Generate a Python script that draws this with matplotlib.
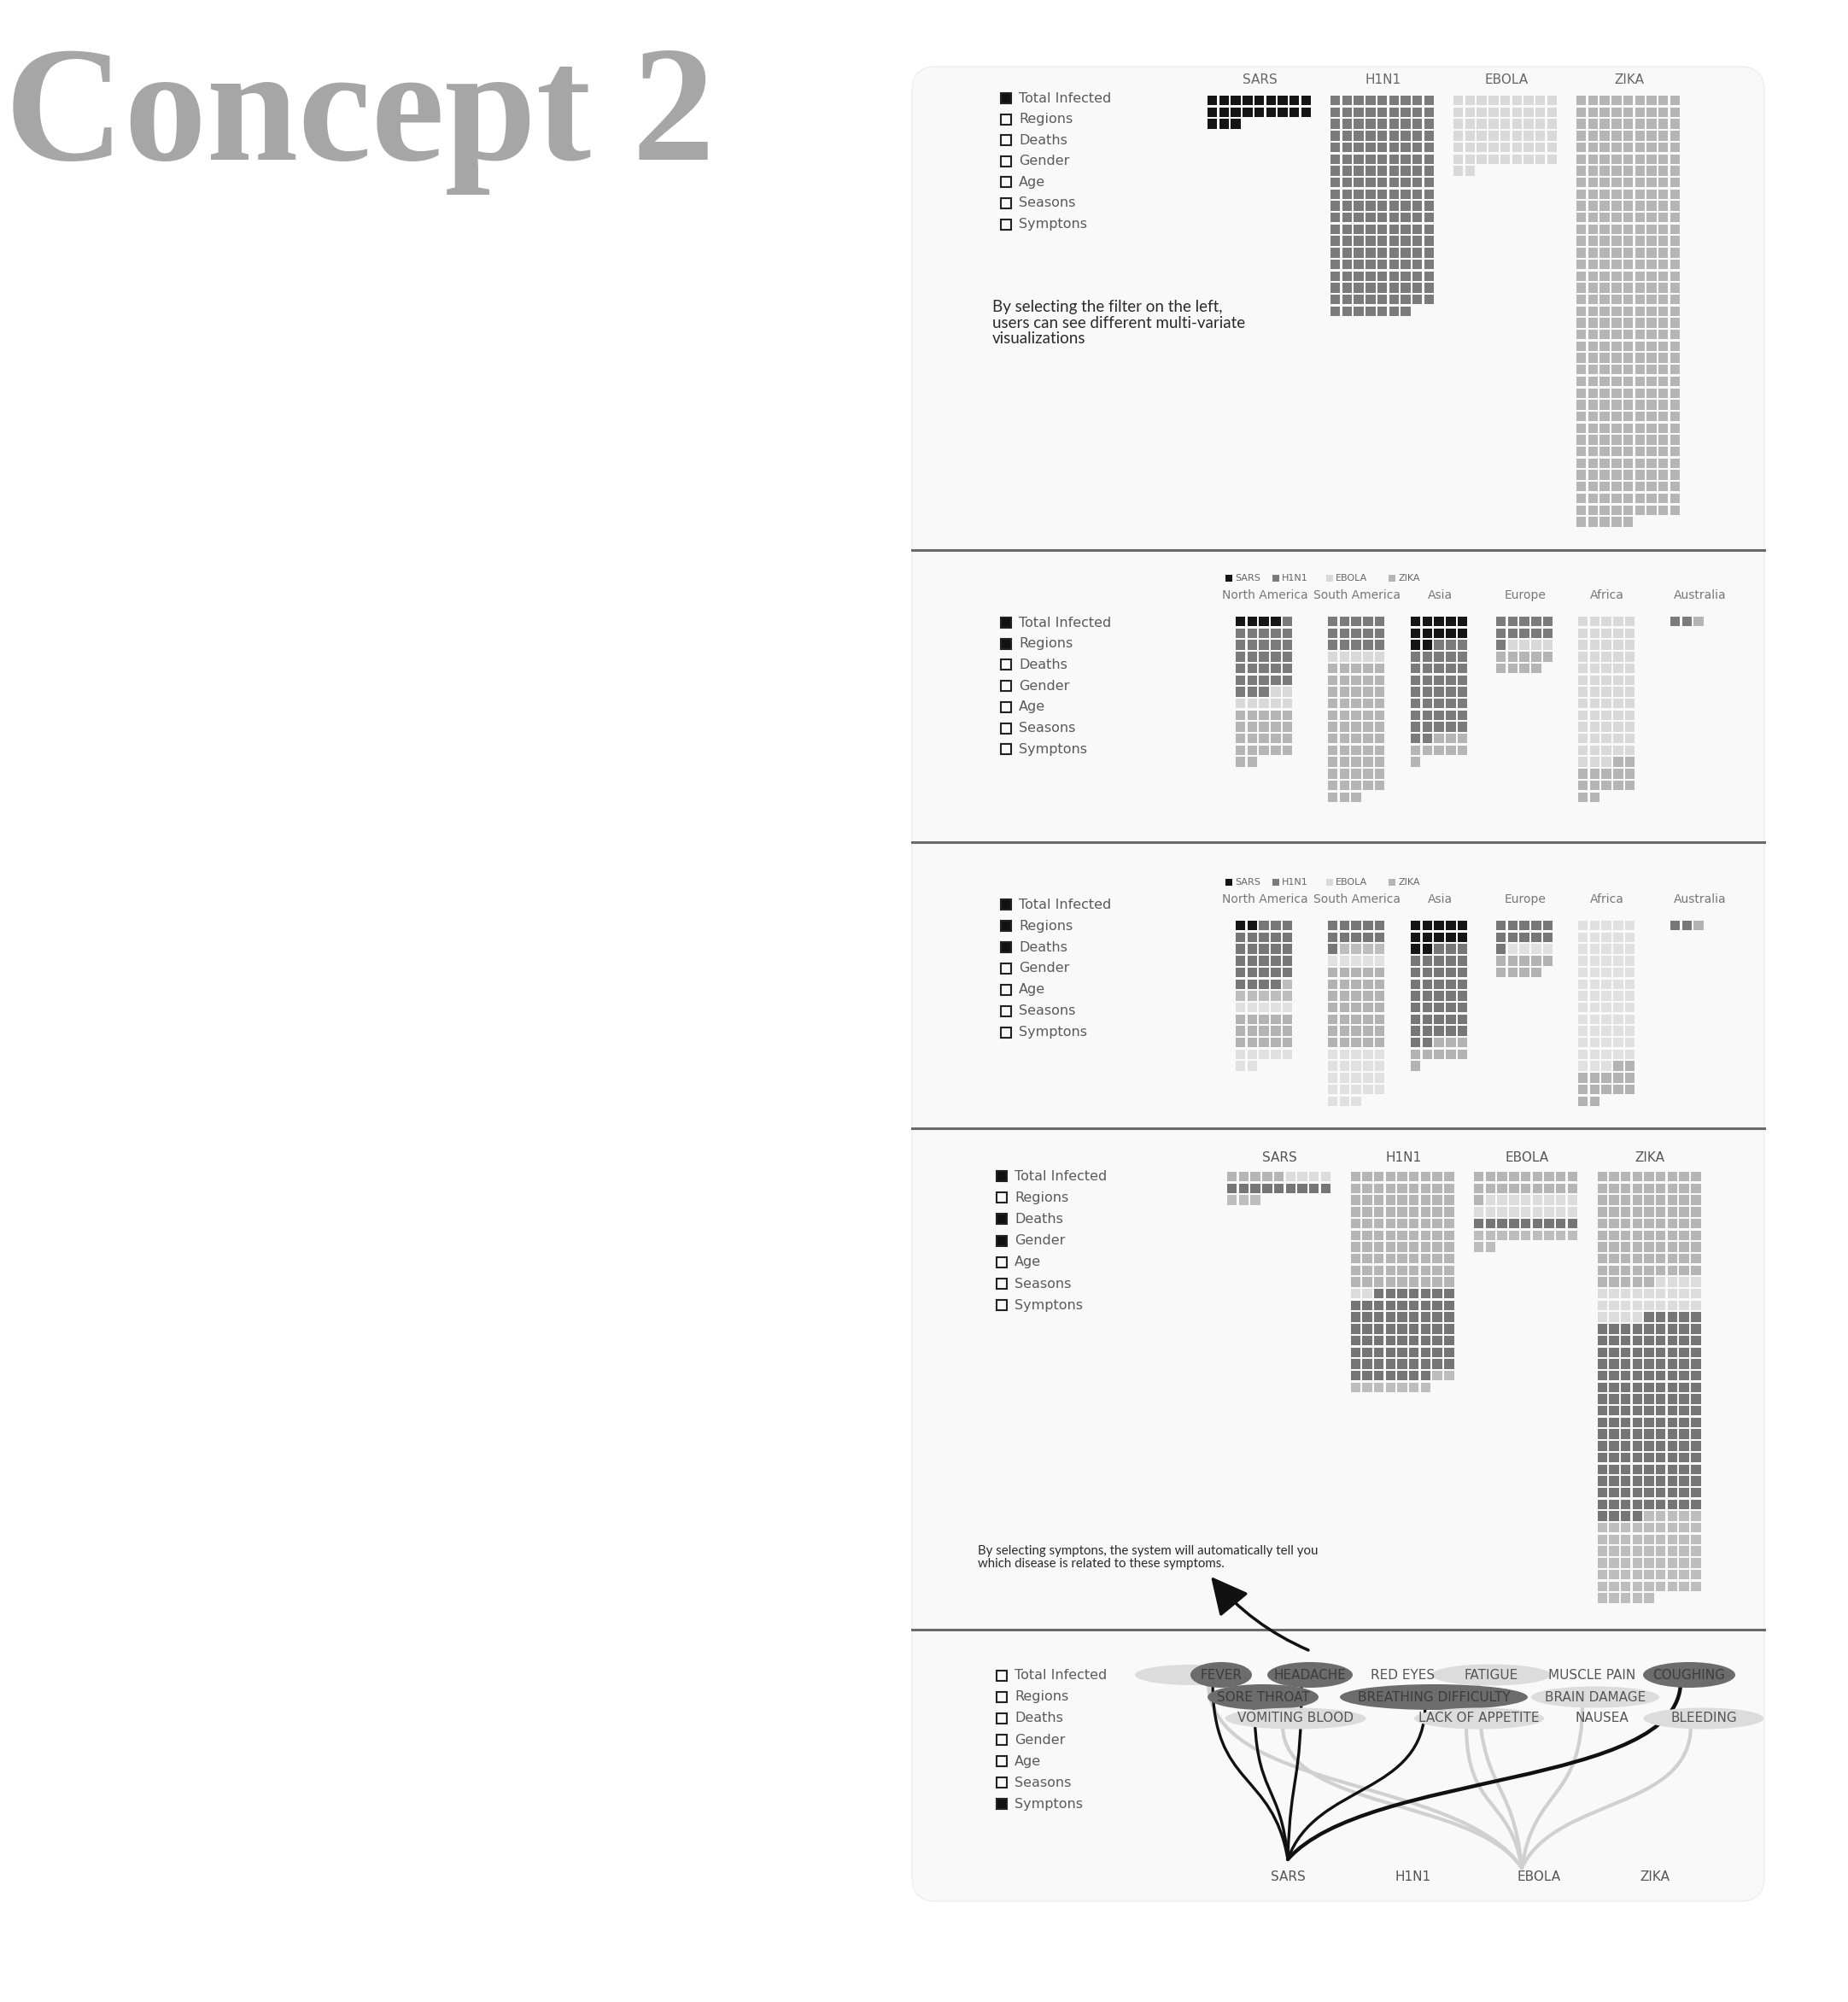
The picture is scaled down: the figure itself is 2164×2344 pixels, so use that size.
import numpy as np
import matplotlib
matplotlib.use('Agg')
import matplotlib.pyplot as plt
from matplotlib.patches import Rectangle, Ellipse, FancyBboxPatch, PathPatch
from matplotlib.collections import PatchCollection
from matplotlib.path import Path
from matplotlib import font_manager

# ---- data ----
filters = ['Total Infected', 'Regions', 'Deaths', 'Gender', 'Age', 'Seasons', 'Symptons']
diseases = ['SARS', 'H1N1', 'EBOLA', 'ZIKA']
total_infected = [21, 169, 56, 329]

regions = ['North America', 'South America', 'Asia', 'Europe', 'Africa', 'Australia']
sars_by_region = [4, 0, 12, 0, 0, 0]
h1n1_by_region = [29, 15, 40, 11, 0, 2]
ebola_by_region = [7, 5, 0, 4, 63, 0]
zika_by_region = [22, 58, 9, 9, 14, 1]

sars_deaths_by_region = [2, 0, 12, 0, 0, 0]
h1n1_deaths_by_region = [25, 11, 40, 11, 0, 2]
ebola_deaths_by_region = [2, 0, 0, 0, 0, 0]
zika_deaths_by_region = [15, 35, 9, 9, 14, 1]

gender_groups = ['Female survived', 'Female deaths', 'Male deaths', 'Male survived']
sars_by_gender = [5, 4, 9, 3]
h1n1_by_gender = [90, 2, 68, 9]
ebola_by_gender = [19, 17, 9, 11]
zika_by_gender = [86, 26, 153, 64]

symptoms = ['FEVER', 'HEADACHE', 'RED EYES', 'FATIGUE', 'MUSCLE PAIN', 'COUGHING',
            'SORE THROAT', 'BREATHING DIFFICULTY', 'BRAIN DAMAGE',
            'VOMITING BLOOD', 'LACK OF APPETITE', 'NAUSEA', 'BLEEDING']
sars_symptoms = ['FEVER', 'SORE THROAT', 'HEADACHE', 'BREATHING DIFFICULTY', 'COUGHING']
ebola_symptoms = ['FEVER', 'VOMITING BLOOD', 'LACK OF APPETITE', 'FATIGUE', 'BRAIN DAMAGE', 'BLEEDING']

panel_filters = [
    [1, 0, 0, 0, 0, 0, 0],
    [1, 1, 0, 0, 0, 0, 0],
    [1, 1, 1, 0, 0, 0, 0],
    [1, 0, 1, 1, 0, 0, 0],
    [0, 0, 0, 0, 0, 0, 1],
]

note1 = 'By selecting the filter on the left,\nusers can see different multi-variate\nvisualizations'
note2 = 'By selecting symptons, the system will automatically tell you\nwhich disease is related to these symptoms.'

# ---- styles / layout ----
W, H = 2164, 2344
disease_colors = ['#151515', '#7b7b7b', '#d9d9d9', '#b5b5b5']
death_colors = ['#151515', '#777777', '#777777', '#bdbdbd', '#bdbdbd', '#e0e0e0', '#b3b3b3', '#e0e0e0']
gender_colors = ['#b5b5b5', '#dcdcdc', '#757575', '#bdbdbd']
TXT = '#5a5a5a'

names = {f.name for f in font_manager.fontManager.ttflist}
NARROW = 'Liberation Sans Narrow' if 'Liberation Sans Narrow' in names else 'DejaVu Sans'
BODY = 'Lato' if 'Lato' in names else 'DejaVu Sans'

PITCH = 13.7
CELL = 11.4


def draw_waffle(ax, x0, y0, ncols, counts, colors):
    cats = np.repeat(np.arange(len(counts)), counts)
    rects, fcs = [], []
    for i, c in enumerate(cats):
        r, col = divmod(i, ncols)
        rects.append(Rectangle((x0 + col * PITCH, y0 + r * PITCH), CELL, CELL))
        fcs.append(colors[c])
    ax.add_collection(PatchCollection(rects, facecolor=fcs, edgecolor='none', zorder=2))


def draw_checkboxes(ax, x, y0, step, selected):
    for i, (label, on) in enumerate(zip(filters, selected)):
        y = y0 + i * step
        ax.add_patch(Rectangle((x, y - 6), 12, 12, facecolor='#111111' if on else 'none',
                               edgecolor='#222222', lw=1.5, zorder=3))
        ax.text(x + 21, y, label, va='center', ha='left', fontsize=11.5, family=NARROW,
                color=TXT, zorder=3)


fig = plt.figure(figsize=(W / 100, H / 100), dpi=100)
ax = fig.add_axes([0, 0, 1, 1])
ax.set_xlim(0, W)
ax.set_ylim(H, 0)
ax.axis('off')

# title
ax.text(6, 187, 'Concept 2', fontsize=139, family='Liberation Serif', weight='bold',
        color='#a6a6a6', va='baseline', ha='left')

# panel background and dividers
ax.add_patch(FancyBboxPatch((1068, 78), 998, 2148, boxstyle='round,pad=0,rounding_size=28',
                            facecolor='#f9f9f9', edgecolor='#eeeeee', lw=1, zorder=0))
for yd in [644, 986, 1321, 1908]:
    ax.plot([1068, 2066], [yd, yd], color='#6a6a6a', lw=2.2, zorder=1)

# ---- panel 1: total infected ----
draw_checkboxes(ax, 1172, 115, 24.6, panel_filters[0])
for i, (d, n) in enumerate(zip(diseases, total_infected)):
    x0 = 1414 + i * 144
    draw_waffle(ax, x0, 112, 9, [n], [disease_colors[i]])
    ax.text(x0 + 9 * PITCH / 2, 93, d, ha='center', va='center', fontsize=11,
            family=NARROW, color='#666666')
ax.text(1162, 351, note1, ha='left', va='top', fontsize=13.5, family=BODY,
        color='#2a2a2a', linespacing=1.12)

# ---- panels 2 and 3: regions ----
region_x = [1447, 1555, 1652, 1752, 1848, 1956]


def region_header(ytop_leg, ylab):
    leg_x = [1435, 1490, 1553, 1626]
    for i, d in enumerate(diseases):
        ax.add_patch(Rectangle((leg_x[i], ytop_leg - 4), 8, 8, facecolor=disease_colors[i],
                               edgecolor='none', zorder=3))
        ax.text(leg_x[i] + 11, ytop_leg, d, va='center', ha='left', fontsize=8,
                family=NARROW, color='#666666')
    for x0, r in zip(region_x, regions):
        ax.text(x0 + 5 * PITCH / 2, ylab, r, ha='center', va='center', fontsize=10,
                family=NARROW, color='#777777')


draw_checkboxes(ax, 1172, 729, 24.7, panel_filters[1])
region_header(677, 697)
for j, x0 in enumerate(region_x):
    counts = [sars_by_region[j], h1n1_by_region[j], ebola_by_region[j], zika_by_region[j]]
    draw_waffle(ax, x0, 722, 5, counts, disease_colors)

draw_checkboxes(ax, 1172, 1059, 25, panel_filters[2])
region_header(1033, 1053)
for j, x0 in enumerate(region_x):
    counts = []
    for tot, dead in [(sars_by_region, sars_deaths_by_region), (h1n1_by_region, h1n1_deaths_by_region),
                      (ebola_by_region, ebola_deaths_by_region), (zika_by_region, zika_deaths_by_region)]:
        counts += [dead[j], tot[j] - dead[j]]
    draw_waffle(ax, x0, 1078, 5, counts, death_colors)

# ---- panel 4: gender ----
draw_checkboxes(ax, 1167, 1377, 25.2, panel_filters[3])
for i, (d, g) in enumerate(zip(diseases, [sars_by_gender, h1n1_by_gender, ebola_by_gender, zika_by_gender])):
    x0 = 1437 + i * 144.5
    draw_waffle(ax, x0, 1372, 9, g, gender_colors)
    ax.text(x0 + 9 * PITCH / 2, 1355, d, ha='center', va='center', fontsize=11,
            family=NARROW, color='#555555')
ax.text(1145, 1809, note2, ha='left', va='top', fontsize=10.8, family=BODY,
        color='#2a2a2a', linespacing=1.05)
ax.annotate('', xy=(1418, 1846), xytext=(1532, 1932),
            arrowprops=dict(arrowstyle='-|>,head_length=0.9,head_width=0.45', mutation_scale=30,
                            lw=2.5, color='#111111', connectionstyle='arc3,rad=-0.12',
                            shrinkA=0, shrinkB=0), zorder=4)

# ---- panel 5: symptoms ----
draw_checkboxes(ax, 1167, 1962, 25, panel_filters[4])
symptom_pos = {
    'FEVER': (1430, 1961, 72), 'HEADACHE': (1534, 1961, 100), 'RED EYES': (1643, 1961, 0),
    'FATIGUE': (1746, 1961, 140), 'MUSCLE PAIN': (1864, 1961, 0), 'COUGHING': (1978, 1961, 108),
    'SORE THROAT': (1479, 1987, 130), 'BREATHING DIFFICULTY': (1679, 1987, 220),
    'BRAIN DAMAGE': (1868, 1987, 150), 'VOMITING BLOOD': (1517, 2012, 165),
    'LACK OF APPETITE': (1732, 2012, 152), 'NAUSEA': (1876, 2012, 0), 'BLEEDING': (1995, 2012, 141),
}
disease_pos = {'SARS': (1508, 2197), 'H1N1': (1655, 2197), 'EBOLA': (1802, 2197), 'ZIKA': (1938, 2197)}


def link(start, end, color, lw, z):
    x0, y0 = start
    x1, y1 = end
    dx, dy = x1 - x0, y0 - y1
    verts = [(x0, y0), (x0 + 0.2 * dx, y0 - 0.5 * dy), (x1, y0 - 0.4 * dy), (x1, y1)]
    path = Path(verts, [Path.MOVETO, Path.CURVE4, Path.CURVE4, Path.CURVE4])
    ax.add_patch(PathPatch(path, facecolor='none', edgecolor=color, lw=lw, zorder=z,
                           capstyle='round'))


sx, sy = disease_pos['SARS'][0], disease_pos['SARS'][1] - 20
ex, ey = disease_pos['EBOLA'][0] - 20, disease_pos['EBOLA'][1] - 10
for s in ebola_symptoms:
    x, y, w = symptom_pos[s]
    link((ex, ey), (x - 15, y + 8), '#d0d0d0', 3.0, 1)
for s in sars_symptoms:
    x, y, w = symptom_pos[s]
    link((sx, sy), (x - 10, y + 8), '#111111', 3.2 if s == 'COUGHING' else 2.4, 1.5)

for s in symptoms:
    x, y, w = symptom_pos[s]
    if s in sars_symptoms:
        if s in ebola_symptoms:
            ax.add_patch(Ellipse((x - 35, y), w + 60, 24, facecolor='#dcdcdc', edgecolor='none', zorder=1.8))
        ax.add_patch(Ellipse((x, y), w, 30, facecolor='#6c6c6c', edgecolor='none', zorder=2))
        tc = '#3c3c3c'
    elif s in ebola_symptoms:
        ax.add_patch(Ellipse((x, y), w, 25, facecolor='#dcdcdc', edgecolor='none', zorder=2))
        tc = '#555555'
    else:
        tc = '#555555'
    ax.text(x, y, s, ha='center', va='center', fontsize=11, family=NARROW, color=tc, zorder=3)

for d in diseases:
    x, y = disease_pos[d]
    ax.text(x, y, d, ha='center', va='center', fontsize=11, family=NARROW, color='#555555', zorder=3)

fig.savefig('out.png', dpi=100, facecolor='white')
